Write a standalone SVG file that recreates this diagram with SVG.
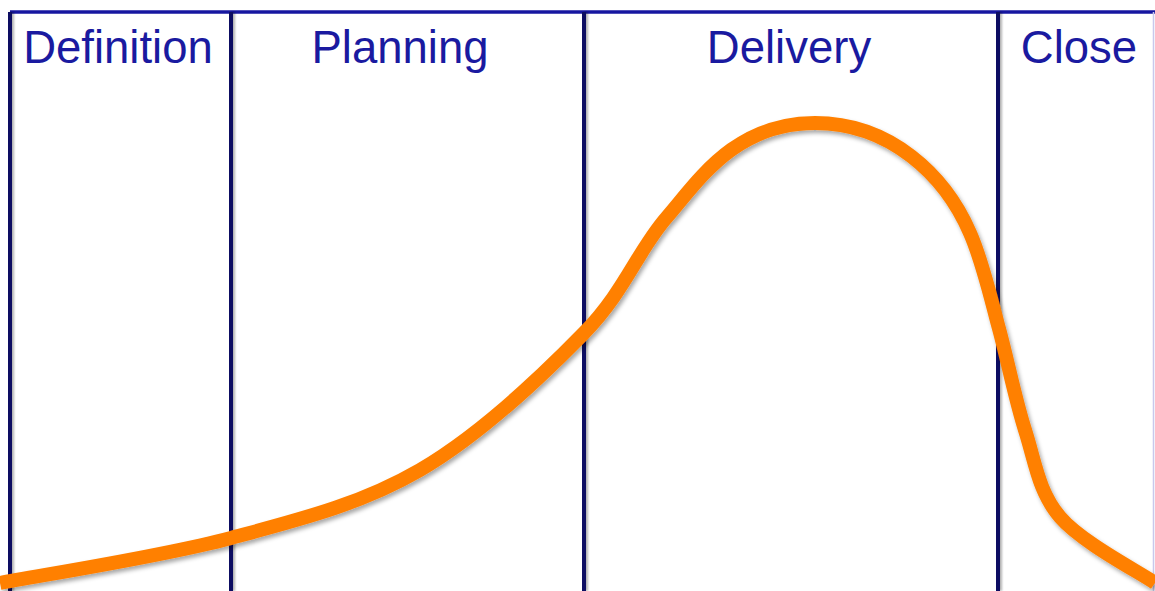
<svg xmlns="http://www.w3.org/2000/svg" width="1155" height="591" viewBox="0 0 1155 591">
  <defs>
    <filter id="shadow" x="-5%" y="-5%" width="110%" height="115%">
      <feDropShadow dx="2" dy="3" stdDeviation="2" flood-color="#000" flood-opacity="0.35"/>
    </filter>
    <filter id="lshadow" x="-50%" y="-5%" width="200%" height="110%">
      <feDropShadow dx="2" dy="0" stdDeviation="1.2" flood-color="#000" flood-opacity="0.3"/>
    </filter>
  </defs>
  <style>
    .label { font-family: "Liberation Sans", Arial, sans-serif; font-size: 45.5px; fill: #1a1aa0; text-anchor: middle; }
    .divider { stroke: #0b0b62; stroke-width: 4; fill: none; }
    .topline { stroke: #1616a0; stroke-width: 3.5; fill: none; }
    .curve { stroke: #ff8000; stroke-width: 14; fill: none; stroke-linecap: butt; stroke-linejoin: round; }
  </style>
  <rect width="1155" height="591" fill="#ffffff"/>
  <g id="frame">
    <line class="topline" x1="10" y1="12" x2="1155" y2="12"/>
    <line x1="1153.5" y1="12" x2="1153.5" y2="591" stroke="#c8c8ec" stroke-width="1.5"/>
    <g filter="url(#lshadow)">
      <line class="divider" x1="10" y1="12" x2="10" y2="591"/>
      <line class="divider" x1="231" y1="12" x2="231" y2="591"/>
      <line class="divider" x1="584" y1="12" x2="584" y2="591"/>
      <line class="divider" x1="998" y1="12" x2="998" y2="591"/>
    </g>
  </g>
  <g id="lane-definition"><text class="label" x="118" y="63">Definition</text></g>
  <g id="lane-planning"><text class="label" x="400" y="63">Planning</text></g>
  <g id="lane-delivery"><text class="label" x="789" y="63">Delivery</text></g>
  <g id="lane-close"><text class="label" x="1079" y="63">Close</text></g>
  <g id="connectors">
    <path class="curve" filter="url(#shadow)" d="M0,583 C38.5,575.5 161,556.8 231,538 C301,519.2 361.2,504.2 420,470 C478.8,435.8 542.8,375.2 584,333 C625.2,290.8 637.7,250.3 667,217 C699,180 735,123 815,123 C890,123 945,175 970,233 C982,260 990,295 998,325 C1007.2,357.8 1014.7,398 1025,430 C1035.3,462 1038.3,491.5 1060,517 C1081.7,542.5 1139.2,572 1155,583"/>
  </g>
</svg>
